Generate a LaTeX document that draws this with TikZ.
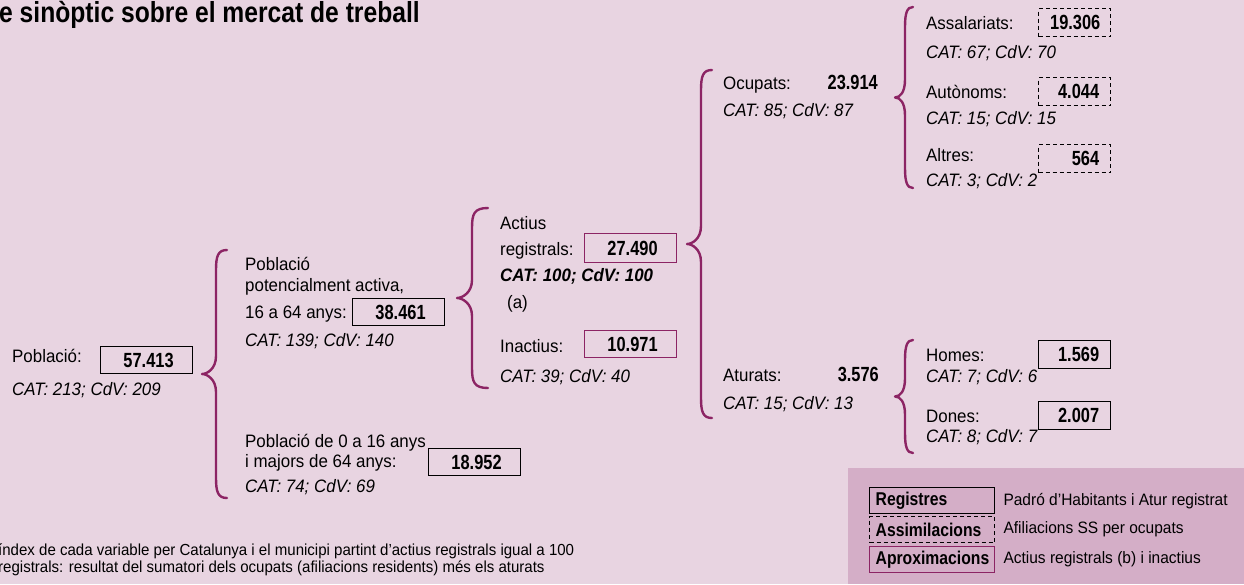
\documentclass[tikz,border=0pt]{standalone}
\usepackage{fontspec}
\setmainfont{Liberation Sans}[FakeStretch=0.94]
\newfontfamily\condfont{Liberation Sans}[FakeStretch=0.85]
\newfontfamily\numfamily{Liberation Sans}[FakeStretch=0.8]
\usetikzlibrary{positioning,calc}

\definecolor{bgpink}{RGB}{232,212,225}
\definecolor{legpink}{RGB}{212,174,199}
\definecolor{plum}{RGB}{140,36,100}

\newcommand{\txtfont}{\fontsize{18}{20}\selectfont}
\newcommand{\numfont}{\numfamily\bfseries\fontsize{20.5}{22}\selectfont}
\newcommand{\notefont}{\fontsize{16}{18}\selectfont}

% curly bracket: tip x, top y, bottom y, body offset, end offset
\newcommand{\curly}[5]{%
  \draw[bracestroke] ({#1+#5},{#2}) .. controls ({#1+#4+2},{#2}) and ({#1+#4},{#2+6}) .. ({#1+#4},{#2+20})
    -- ({#1+#4},{(#2+#3)/2-18}) .. controls ({#1+#4},{(#2+#3)/2-5}) and ({#1+5},{(#2+#3)/2}) .. ({#1},{(#2+#3)/2})
    .. controls ({#1+5},{(#2+#3)/2}) and ({#1+#4},{(#2+#3)/2+5}) .. ({#1+#4},{(#2+#3)/2+18})
    -- ({#1+#4},{#3-20}) .. controls ({#1+#4},{#3-6}) and ({#1+#4+2},{#3}) .. ({#1+#5},{#3});}

\tikzset{
  bracestroke/.style={draw=plum, line width=2.4pt, line cap=round, line join=round},
  txt/.style={anchor=base west, inner sep=0pt, font=\txtfont},
  cat/.style={txt, font=\txtfont\itshape},
  val/.style={anchor=base east, inner sep=0pt, font=\numfont},
  numbox/.style={draw, line width=1.3pt, anchor=north west, inner ysep=0pt, align=right, font=\numfont},
  bigbox/.style={numbox, minimum height=27pt, text width=54pt, inner xsep=19pt},
  smallbox/.style={numbox, minimum height=28pt, text width=49pt, inner xsep=11.5pt},
  dashbox/.style={dash pattern=on 4pt off 3pt},
  legbox/.style={draw, line width=1.3pt, anchor=north west, minimum height=26pt, text width=113pt,
    inner xsep=6pt, inner ysep=0pt, align=left, font=\condfont\bfseries\fontsize{18.5}{20}\selectfont},
  legtxt/.style={anchor=west, inner sep=0pt, font=\fontsize{16.5}{18}\selectfont}
}

\begin{document}
\begin{tikzpicture}[x=1pt, y=-1pt]
  \fill[bgpink] (0,0) rectangle (1244,584);
  \useasboundingbox (0,0) rectangle (1244,584);
  \fill[legpink] (848,468) rectangle (1244,584);

  \node[txt, font=\condfont\bfseries\fontsize{29}{30}\selectfont] (title) at (-1,22) {e sinòptic sobre el mercat de treball};

  % poblacio total
  \node[txt] (pob) at (12,362) {Població:};
  \node[bigbox] (pobval) at (100,346) {57.413};
  \node[cat] (pobcat) at (12,395) {CAT: 213; CdV: 209};
  \curly{202}{250}{498}{14}{25}

  % potencialment activa
  \node[txt] (pot1) at (245,270) {Població};
  \node[txt] (pot2) at (245,291) {potencialment activa,};
  \node[txt] (pot3) at (245,318) {16 a 64 anys:};
  \node[bigbox] (potval) at (352,298) {38.461};
  \node[cat] (potcat) at (245,346) {CAT: 139; CdV: 140};

  \node[txt] (edat1) at (245,447) {Població de 0 a 16 anys};
  \node[txt] (edat2) at (245,467) {i majors de 64 anys:};
  \node[bigbox] (edatval) at (428,448) {18.952};
  \node[cat] (edatcat) at (245,492) {CAT: 74; CdV: 69};

  % actius i inactius
  \curly{457}{208}{388}{15}{31}
  \node[txt] (reg1) at (500,229) {Actius};
  \node[txt] (reg2) at (500,255) {registrals:};
  \node[bigbox, draw=plum, minimum height=29pt] (regval) at (584,233) {27.490};
  \node[cat, font=\txtfont\bfseries\itshape] (regcat) at (500,281) {CAT: 100; CdV: 100};
  \node[txt] (regnote) at (507,308) {(a)};
  \node[txt] (inac) at (500,352) {Inactius:};
  \node[bigbox, draw=plum] (inacval) at (584,330) {10.971};
  \node[cat] (inaccat) at (500,382) {CAT: 39; CdV: 40};

  % ocupats i aturats
  \curly{687}{70}{418}{14}{25}
  \node[txt] (ocu) at (723,89) {Ocupats:};
  \node[val] (ocuval) at (878,89) {23.914};
  \node[cat] (ocucat) at (723,116) {CAT: 85; CdV: 87};
  \node[txt] (atu) at (723,381) {Aturats:};
  \node[val] (atuval) at (879,381) {3.576};
  \node[cat] (atucat) at (723,409) {CAT: 15; CdV: 13};

  \curly{895}{7}{188}{10}{18}
  \node[txt] (ass) at (926,29) {Assalariats:};
  \node[smallbox, dashbox] (assval) at (1038,8) {19.306};
  \node[cat] (asscat) at (926,58) {CAT: 67; CdV: 70};
  \node[txt] (aut) at (926,98) {Autònoms:};
  \node[smallbox, dashbox] (autval) at (1038,77) {4.044};
  \node[cat] (autcat) at (926,124) {CAT: 15; CdV: 15};
  \node[txt] (alt) at (926,161) {Altres:};
  \node[smallbox, dashbox] (altval) at (1038,144) {564};
  \node[cat] (altcat) at (926,186) {CAT: 3; CdV: 2};

  \curly{895}{340}{453}{10}{18}
  \node[txt] (hom) at (926,361) {Homes:};
  \node[smallbox] (homval) at (1038,340) {1.569};
  \node[cat] (homcat) at (926,382) {CAT: 7; CdV: 6};
  \node[txt] (don) at (926,422) {Dones:};
  \node[smallbox] (donval) at (1038,401) {2.007};
  \node[cat] (doncat) at (926,442) {CAT: 8; CdV: 7};

  % llegenda
  \node[legbox] (legreg) at (869,487) {Registres};
  \node[legbox, dashbox] (legass) at (869,516) {Assimilacions};
  \node[legbox, draw=plum] (legapr) at (869,546) {Aproximacions};
  \node[legtxt, right=8pt of legreg] (legregtxt) {Padró d’Habitants i Atur registrat};
  \node[legtxt, right=8pt of legass] (legasstxt) {Afiliacions SS per ocupats};
  \node[legtxt, right=8pt of legapr] (legaprtxt) {Actius registrals (b) i inactius};

  % notes
  \node[txt, font=\notefont] (nota1) at (-2,555) {índex de cada variable per Catalunya i el municipi partint d’actius registrals igual a 100};
  \node[txt, font=\notefont] (nota2) at (-2,572) {registrals: resultat del sumatori dels ocupats (afiliacions residents) més els aturats};
\end{tikzpicture}
\end{document}
